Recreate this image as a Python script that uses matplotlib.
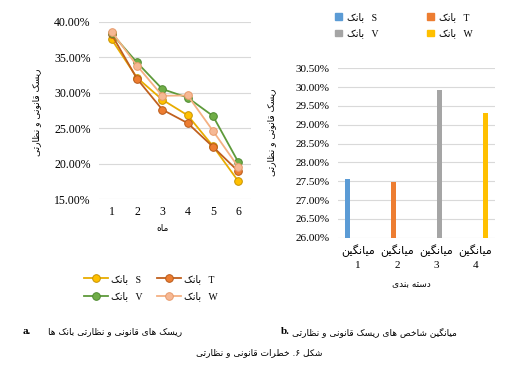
import matplotlib
matplotlib.use("Agg")
import matplotlib.pyplot as plt
from matplotlib.ticker import FuncFormatter
from matplotlib.lines import Line2D
from matplotlib.patches import Patch

# values (percent)
months = [1, 2, 3, 4, 5, 6]
bank_s = [37.5, 32.1, 29.0, 26.8, 22.45, 17.5]
bank_t = [38.2, 31.95, 27.6, 25.7, 22.35, 18.9]
bank_v = [38.35, 34.25, 30.5, 29.3, 26.7, 20.2]
bank_w = [38.6, 33.8, 29.55, 29.6, 24.6, 19.5]

groups = ["1", "2", "3", "4"]
avg_values = [27.56, 27.47, 29.93, 29.30]
bank_names = ["S", "T", "V", "W"]

# isolated, final, initial, medial
FORMS = {
    "ا": ("\uFE8D", "\uFE8E", None, None),
    "ب": ("\uFE8F", "\uFE90", "\uFE91", "\uFE92"),
    "ت": ("\uFE95", "\uFE96", "\uFE97", "\uFE98"),
    "خ": ("\uFEA5", "\uFEA6", "\uFEA7", "\uFEA8"),
    "د": ("\uFEA9", "\uFEAA", None, None),
    "ر": ("\uFEAD", "\uFEAE", None, None),
    "س": ("\uFEB1", "\uFEB2", "\uFEB3", "\uFEB4"),
    "ش": ("\uFEB5", "\uFEB6", "\uFEB7", "\uFEB8"),
    "ص": ("\uFEB9", "\uFEBA", "\uFEBB", "\uFEBC"),
    "ط": ("\uFEC1", "\uFEC2", "\uFEC3", "\uFEC4"),
    "ظ": ("\uFEC5", "\uFEC6", "\uFEC7", "\uFEC8"),
    "ق": ("\uFED5", "\uFED6", "\uFED7", "\uFED8"),
    "ل": ("\uFEDD", "\uFEDE", "\uFEDF", "\uFEE0"),
    "م": ("\uFEE1", "\uFEE2", "\uFEE3", "\uFEE4"),
    "ن": ("\uFEE5", "\uFEE6", "\uFEE7", "\uFEE8"),
    "ه": ("\uFEE9", "\uFEEA", "\uFEEB", "\uFEEC"),
    "و": ("\uFEED", "\uFEEE", None, None),
    "ک": ("\uFB8E", "\uFB8F", "\uFB90", "\uFB91"),
    "گ": ("\uFB92", "\uFB93", "\uFB94", "\uFB95"),
    "ی": ("\uFBFC", "\uFBFD", "\uFBFE", "\uFBFF"),
}


def fa(s):
    # join letters and flip to visual order (no bidi engine in matplotlib)
    out = []
    for i, c in enumerate(s):
        if c not in FORMS:
            out.append(c)
            continue
        prev = s[i - 1] if i > 0 else None
        nxt = s[i + 1] if i + 1 < len(s) else None
        jp = prev in FORMS and FORMS[prev][2] is not None
        jn = FORMS[c][2] is not None and nxt in FORMS
        iso, fin, ini, med = FORMS[c]
        if jp and jn:
            out.append(med)
        elif jp:
            out.append(fin)
        elif jn:
            out.append(ini)
        else:
            out.append(iso)
    return "".join(out)[::-1]


SERIF = "Liberation Serif"
MIXED = ["Liberation Serif", "DejaVu Sans"]
ARAB = "DejaVu Sans"


def pct(v, pos):
    return f"{v:.2f}%"


def main():
    fig = plt.figure(figsize=(5.25, 3.71), dpi=100)
    W, H = 525, 371

    # ---- left: line chart
    ax1 = fig.add_axes([99 / W, 1 - 199 / H, 152 / W, 177.3 / H])
    line_cols = [("#E8AC00", "#FFC000", "#C89200"),
                 ("#C0601E", "#ED7D31", "#B85A1A"),
                 ("#5E9A3A", "#70AD47", "#4E8A30"),
                 ("#F4B183", "#F6B894", "#E89A6A")]
    series = [bank_s, bank_t, bank_v, bank_w]
    for vals, (lc, fc, ec) in zip(series, line_cols):
        ax1.plot(months, vals, color=lc, lw=1.3, marker="o", ms=5.5,
                 mfc=fc, mec=ec, mew=0.7)
    ax1.set_xlim(0.5, 6.5)
    ax1.set_ylim(15, 40)
    ax1.set_yticks([15, 20, 25, 30, 35, 40])
    ax1.set_xticks(months)
    ax1.yaxis.set_major_formatter(FuncFormatter(pct))
    ax1.yaxis.grid(True, color="#D9D9D9", lw=0.8)
    ax1.set_axisbelow(True)
    for sp in ax1.spines.values():
        sp.set_visible(False)
    ax1.tick_params(length=0, labelsize=8.5, pad=6)
    ax1.tick_params(axis="x", pad=5)
    for t in ax1.get_xticklabels() + ax1.get_yticklabels():
        t.set_family(SERIF)

    fig.text(37 / W, 1 - 112 / H, fa("ریسک قانونی و نظارتی"), rotation=90,
             ha="center", va="center", family=ARAB, fontsize=6.5)
    fig.text(163 / W, 1 - 228 / H, fa("ماه"), ha="center", va="center",
             family=ARAB, fontsize=6.5)

    handles = []
    for (lc, fc, ec) in line_cols:
        handles.append(Line2D([], [], color=lc, lw=1.3, marker="o", ms=5.5,
                              mfc=fc, mec=ec, mew=0.7))
    labels = [fa("بانک") + "   " + n for n in bank_names]
    order = [0, 2, 1, 3]
    fig.legend([handles[i] for i in order], [labels[i] for i in order],
               ncol=2, loc="center", bbox_to_anchor=(151 / W, 1 - 287.5 / H),
               frameon=False, prop={"family": MIXED, "size": 7},
               handlelength=2.5, columnspacing=1.5, labelspacing=0.75,
               handletextpad=0.3)

    # ---- right: grouped bars
    ax2 = fig.add_axes([338 / W, 1 - 237.7 / H, 157 / W, 169.4 / H])
    bar_cols = ["#5B9BD5", "#ED7D31", "#A5A5A5", "#FFC000"]
    slot = 0.172
    for i, (g, v) in enumerate(zip(groups, avg_values)):
        ax2.bar(i + (i - 1.5) * slot, v - 26, bottom=26, width=0.13,
                color=bar_cols[i])
    ax2.set_xlim(-0.5, 3.5)
    ax2.set_ylim(26, 30.5)
    ax2.set_yticks([26 + 0.5 * k for k in range(10)])
    ax2.yaxis.set_major_formatter(FuncFormatter(pct))
    ax2.set_xticks(range(len(groups)))
    ax2.set_xticklabels([fa("میانگین") + "\n" + g for g in groups],
                        family=MIXED, fontsize=6.5, linespacing=1.45)
    ax2.yaxis.grid(True, color="#D9D9D9", lw=0.8)
    ax2.set_axisbelow(True)
    for sp in ax2.spines.values():
        sp.set_visible(False)
    ax2.tick_params(length=0, labelsize=8, pad=6)
    ax2.tick_params(axis="x", pad=5)
    for t in ax2.get_yticklabels():
        t.set_family(SERIF)

    fig.text(272 / W, 1 - 132 / H, fa("ریسک قانونی و نظارتی"), rotation=90,
             ha="center", va="center", family=ARAB, fontsize=6.5)
    fig.text(411 / W, 1 - 285 / H, fa("دسته بندی"), ha="center", va="center",
             family=ARAB, fontsize=6.5)

    bh = [Patch(color=c) for c in bar_cols]
    fig.legend([bh[i] for i in order], [labels[i] for i in order],
               ncol=2, loc="center", bbox_to_anchor=(404 / W, 1 - 25 / H),
               frameon=False, prop={"family": MIXED, "size": 7},
               handlelength=0.7, handleheight=0.7, columnspacing=5.0,
               labelspacing=0.7, handletextpad=0.5)

    # ---- captions
    fig.text(27 / W, 1 - 332 / H, "a.", ha="center", va="center",
             family=SERIF, weight="bold", fontsize=8)
    fig.text(115 / W, 1 - 332 / H, fa("ریسک های قانونی و نظارتی بانک ها"),
             ha="center", va="center", family=ARAB, fontsize=6.5)
    fig.text(285 / W, 1 - 332 / H, "b.", ha="center", va="center",
             family=SERIF, weight="bold", fontsize=8)
    fig.text(374 / W, 1 - 332 / H, fa("میانگین شاخص های ریسک قانونی و نظارتی"),
             ha="center", va="center", family=ARAB, fontsize=6.5)
    fig.text(259 / W, 1 - 353 / H, fa("شکل ۶. خطرات قانونی و نظارتی"),
             ha="center", va="center", family=ARAB, fontsize=6.5)

    fig.savefig("out.png", dpi=100)


if __name__ == "__main__":
    main()
